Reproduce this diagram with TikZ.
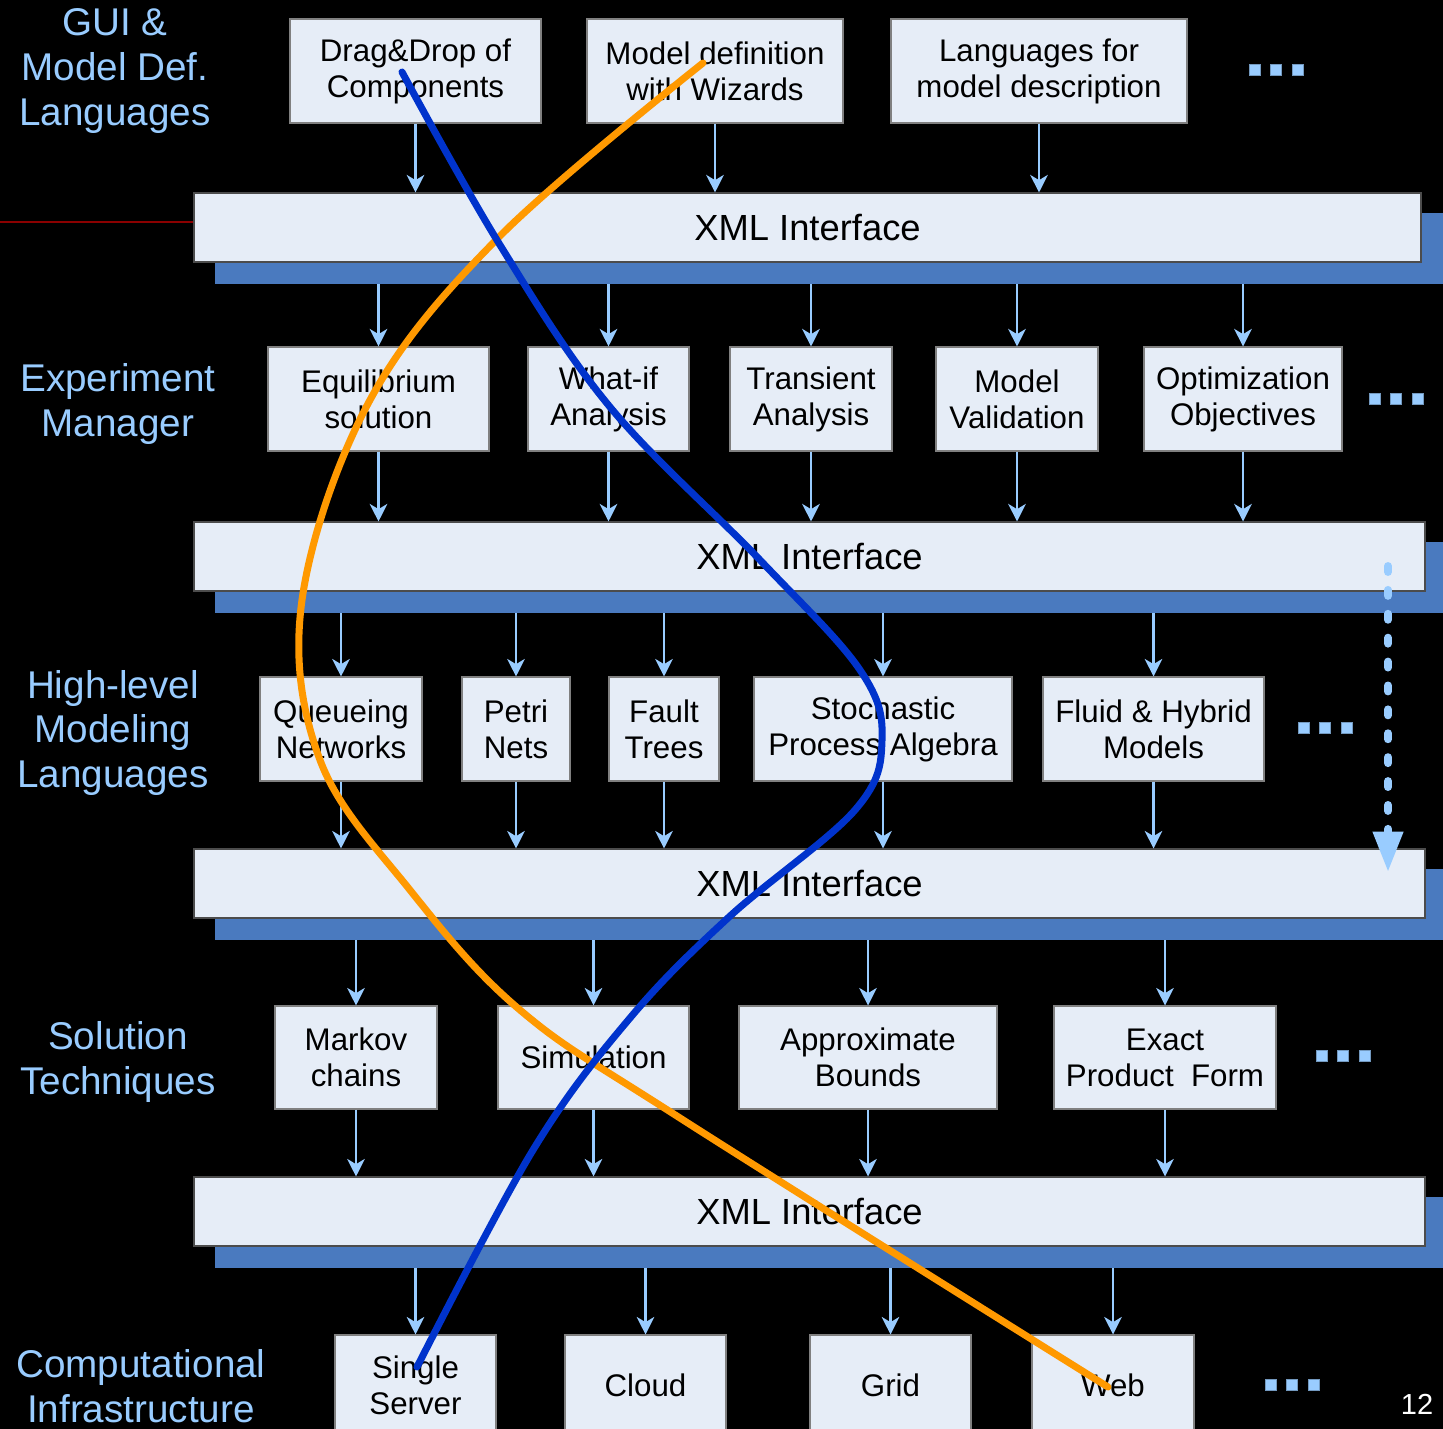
\documentclass[tikz,border=0pt]{standalone}
\usepackage{fontspec}
\setmainfont{Liberation Sans}
\usetikzlibrary{arrows.meta, positioning}

\definecolor{boxfill}{HTML}{E6EDF7}
\definecolor{shadowblue}{HTML}{4A7ABF}
\definecolor{arrowblue}{HTML}{99CCFF}
\definecolor{curveblue}{HTML}{0033CC}
\definecolor{curveorange}{HTML}{FF9900}
\definecolor{sepred}{HTML}{8B0000}

\begin{document}
\begin{tikzpicture}[x=0.02cm, y=-0.02cm,
    box/.style={draw=gray, line width=0.6pt, fill=boxfill, inner sep=0pt, align=center, font=\fontsize{17.8}{20.5}\selectfont},
    bar/.style={draw=black!70, line width=0.6pt, fill=boxfill, inner sep=0pt, font=\fontsize{20.7}{24}\selectfont},
    barshadow/.style={fill=shadowblue, inner sep=0pt},
    layerlabel/.style={text=arrowblue, align=center, font=\fontsize{22}{25.5}\selectfont},
    conn/.style={arrowblue, line width=1.2pt, -{Stealth[length=10pt, width=10pt, inset=3pt]}},
    dotsq/.style={fill=arrowblue, draw=arrowblue!75!black, line width=0.3pt},
    curve/.style={line width=4pt, line cap=round}]
    \newcommand*{\pxbox}[6]{\node[box, minimum width={(#4-#2)*0.02cm}, minimum height={(#5-#3)*0.02cm}] (#1) at ({(#2+#4)/2},{(#3+#5)/2}) {#6};}
    \newcommand*{\xmlbar}[3]{%
        \node[barshadow, minimum width={1235*0.02cm}, minimum height={71*0.02cm}] (sh#1) at (832.5,{#2+55.5}) {};
        \node[bar, minimum width={(#3-194)*0.02cm}, minimum height={69*0.02cm}] (xml#1) at ({(194+#3)/2},{#2+34.5}) {XML Interface};}
    \newcommand*{\moredots}[2]{\foreach \d in {-1,0,1} \filldraw[dotsq] ({#1+\d*21.7-5.5},{#2-5.5}) rectangle ++(11,11);}

    \fill[black] (0,0) rectangle (1443,1429);
    \useasboundingbox (0,0) rectangle (1443,1429);

    % interface layers
    \xmlbar{A}{193}{1421}
    \xmlbar{B}{522}{1425}
    \xmlbar{C}{849}{1425}
    \xmlbar{D}{1177}{1425}
    \coordinate (redStart) at (0,222);
    \draw[sepred, line width=1.2pt] (redStart) -- (redStart -| xmlA.west);

    % GUI & model definition
    \pxbox{dnd}{290}{19}{541}{123}{Drag\&Drop of\\Components}
    \pxbox{wiz}{587}{19}{843}{123}{Model definition\\with Wizards}
    \pxbox{lang}{891}{19}{1187}{123}{Languages for\\model description}
    % experiment manager
    \pxbox{equi}{268}{347}{489}{451}{Equilibrium\\solution}
    \pxbox{whatif}{528}{347}{689}{451}{What-if\\Analysis}
    \pxbox{trans}{730}{347}{892}{451}{Transient\\Analysis}
    \pxbox{valid}{936}{347}{1098}{451}{Model\\Validation}
    \pxbox{optim}{1144}{347}{1342}{451}{Optimization\\Objectives}
    % modeling languages
    \pxbox{qn}{260}{677}{422}{781}{Queueing\\Networks}
    \pxbox{pn}{462}{677}{570}{781}{Petri\\Nets}
    \pxbox{ft}{609}{677}{719}{781}{Fault\\Trees}
    \pxbox{spa}{754}{677}{1012}{781}{Stochastic\\Process Algebra}
    \pxbox{fluid}{1043}{677}{1264}{781}{Fluid \& Hybrid\\Models}
    % solution techniques
    \pxbox{markov}{275}{1006}{437}{1109}{Markov\\chains}
    \pxbox{sim}{498}{1006}{689}{1109}{Simulation}
    \pxbox{approx}{739}{1006}{997}{1109}{Approximate\\Bounds}
    \pxbox{exact}{1054}{1006}{1276}{1109}{Exact\\Product~ Form}
    % infrastructure
    \pxbox{single}{335}{1335}{496}{1436}{Single\\Server}
    \pxbox{cloud}{565}{1335}{726}{1436}{Cloud}
    \pxbox{grid}{810}{1335}{971}{1436}{Grid}
    \pxbox{web}{1032}{1335}{1194}{1436}{Web}

    \node[layerlabel] (labGui) at (115,71) {GUI \&\\Model Def.\\Languages};
    \node[layerlabel] (labExp) at (118,404) {Experiment\\Manager};
    \node[layerlabel] (labHigh) at (113,733) {High-level\\Modeling\\Languages};
    \node[layerlabel] (labSol) at (118,1062) {Solution\\Techniques};
    \node[layerlabel] (labComp) at (141,1386) {Computational\\Infrastructure};

    \foreach \b in {dnd, wiz, lang}
        \draw[conn] (\b.south) -- (\b.south |- xmlA.north);
    \foreach \b in {equi, whatif, trans, valid, optim} {
        \draw[conn] (\b.north |- shA.south) -- (\b.north);
        \draw[conn] (\b.south) -- (\b.south |- xmlB.north);
    }
    \foreach \b in {qn, pn, ft, spa, fluid} {
        \draw[conn] (\b.north |- shB.south) -- (\b.north);
        \draw[conn] (\b.south) -- (\b.south |- xmlC.north);
    }
    \foreach \b in {markov, sim, approx, exact} {
        \draw[conn] (\b.north |- shC.south) -- (\b.north);
        \draw[conn] (\b.south) -- (\b.south |- xmlD.north);
    }
    \foreach \b in {single, cloud, grid, web}
        \draw[conn] (\b.north |- shD.south) -- (\b.north);

    \moredots{1276}{70}
    \moredots{1396}{399}
    \moredots{1325}{728}
    \moredots{1343}{1056}
    \moredots{1292}{1385}

    \coordinate (dotTop) at (1388,566);
    \coordinate (dotTip) at (1388,872);
    \draw[arrowblue, line width=4.5pt, line cap=round, dash pattern=on 3.4pt off 10.2pt,
        -{Triangle[length=23pt, width=16.4pt]}] (dotTop) -- (dotTip);

    \draw[curve, curveorange] plot[smooth, tension=0.6] coordinates {(703,63) (500,236) (370,400) (302,600) (320,760) (410,890) (520,1010) (680,1118) (1108,1387)};
    \draw[curve, curveblue] plot[smooth, tension=0.6] coordinates {(402,72) (500,245) (610,407) (760,560) (860,670) (882,740) (855,810) (729,917) (630,1018) (533,1150) (417,1367)};

    \node[text=white, font=\fontsize{16.5}{19}\selectfont] (pageNo) at (1417,1404) {12};
\end{tikzpicture}
\end{document}
